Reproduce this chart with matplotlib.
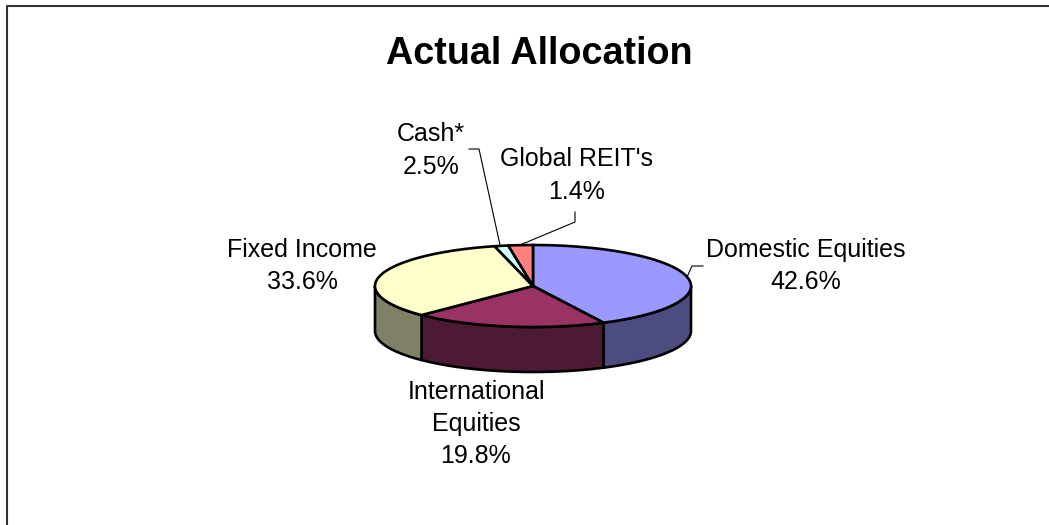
import numpy as np
from matplotlib import pyplot as plt

# slice sizes as drawn in the picture, clockwise from 12 o'clock
slice_names = ['Domestic Equities', 'International Equities', 'Fixed Income', 'Cash', 'Global REIT']
slice_values = [42.6, 19.8, 33.6, 1.4, 2.5]
top_colors = ['#9999FF', '#993366', '#FFFFCC', '#CCFFFF', '#FF8080']
side_colors = ['#4C4C80', '#4D1A33', '#808066', '#667F7F', '#804040']

label_texts = ['Domestic Equities\n42.6%', 'International\nEquities\n19.8%',
               'Fixed Income\n33.6%', 'Cash*\n2.5%', "Global REIT's\n1.4%"]

# pixel layout
cx, cy = 533, 286
rx, ry = 158, 41
depth = 45
label_x = [806, 476, 302, 431, 577]
label_y = [266, 424, 266, 150.5, 175.5]

fig = plt.figure(figsize=(10.49, 5.25), dpi=100)
ax = fig.add_axes([0, 0, 1, 1])
ax.set_xlim(0, 1049)
ax.set_ylim(525, 0)
ax.axis('off')
plt.rcParams['font.family'] = ['Liberation Sans', 'DejaVu Sans']

# chart frame runs off the right and bottom of the image
ax.plot([1049, 6.5, 6.5], [6, 6, 525], color='#333333', lw=1.5, solid_capstyle='butt')

ax.text(539, 54.5, 'Actual Allocation', fontsize=27.2, fontweight='bold',
        ha='center', va='center', color='black')


def ellipse_xy(angles):
    # angle in radians, clockwise from the top
    return cx + rx * np.sin(angles), cy - ry * np.cos(angles)


edges = np.cumsum([0] + slice_values) / sum(slice_values) * 2 * np.pi

# walls first, only the front half of the pie can be seen
for i in range(len(slice_values)):
    a0 = max(edges[i], np.pi / 2)
    a1 = min(edges[i + 1], 3 * np.pi / 2)
    if a1 <= a0:
        continue
    t = np.linspace(a0, a1, 80)
    x, y = ellipse_xy(t)
    ax.fill(np.r_[x, x[::-1]], np.r_[y, y[::-1] + depth], facecolor=side_colors[i],
            edgecolor='black', lw=1.9, joinstyle='round')

# top faces
for i in range(len(slice_values)):
    t = np.linspace(edges[i], edges[i + 1], 120)
    x, y = ellipse_xy(t)
    ax.fill(np.r_[cx, x], np.r_[cy, y], facecolor=top_colors[i],
            edgecolor='black', lw=1.9, joinstyle='round')

# leader lines
ax.plot([703, 692, 687], [266, 266, 277], color='black', lw=0.8)
ax.plot([469, 479, 500], [149, 149, 245], color='black', lw=0.8)
ax.plot([575, 575, 520], [212, 222, 245], color='black', lw=0.8)

for i in range(len(label_texts)):
    ax.text(label_x[i], label_y[i], label_texts[i], fontsize=18, ha='center', va='center',
            color='black', linespacing=1.435, multialignment='center')

fig.savefig('out.png', dpi=100)
